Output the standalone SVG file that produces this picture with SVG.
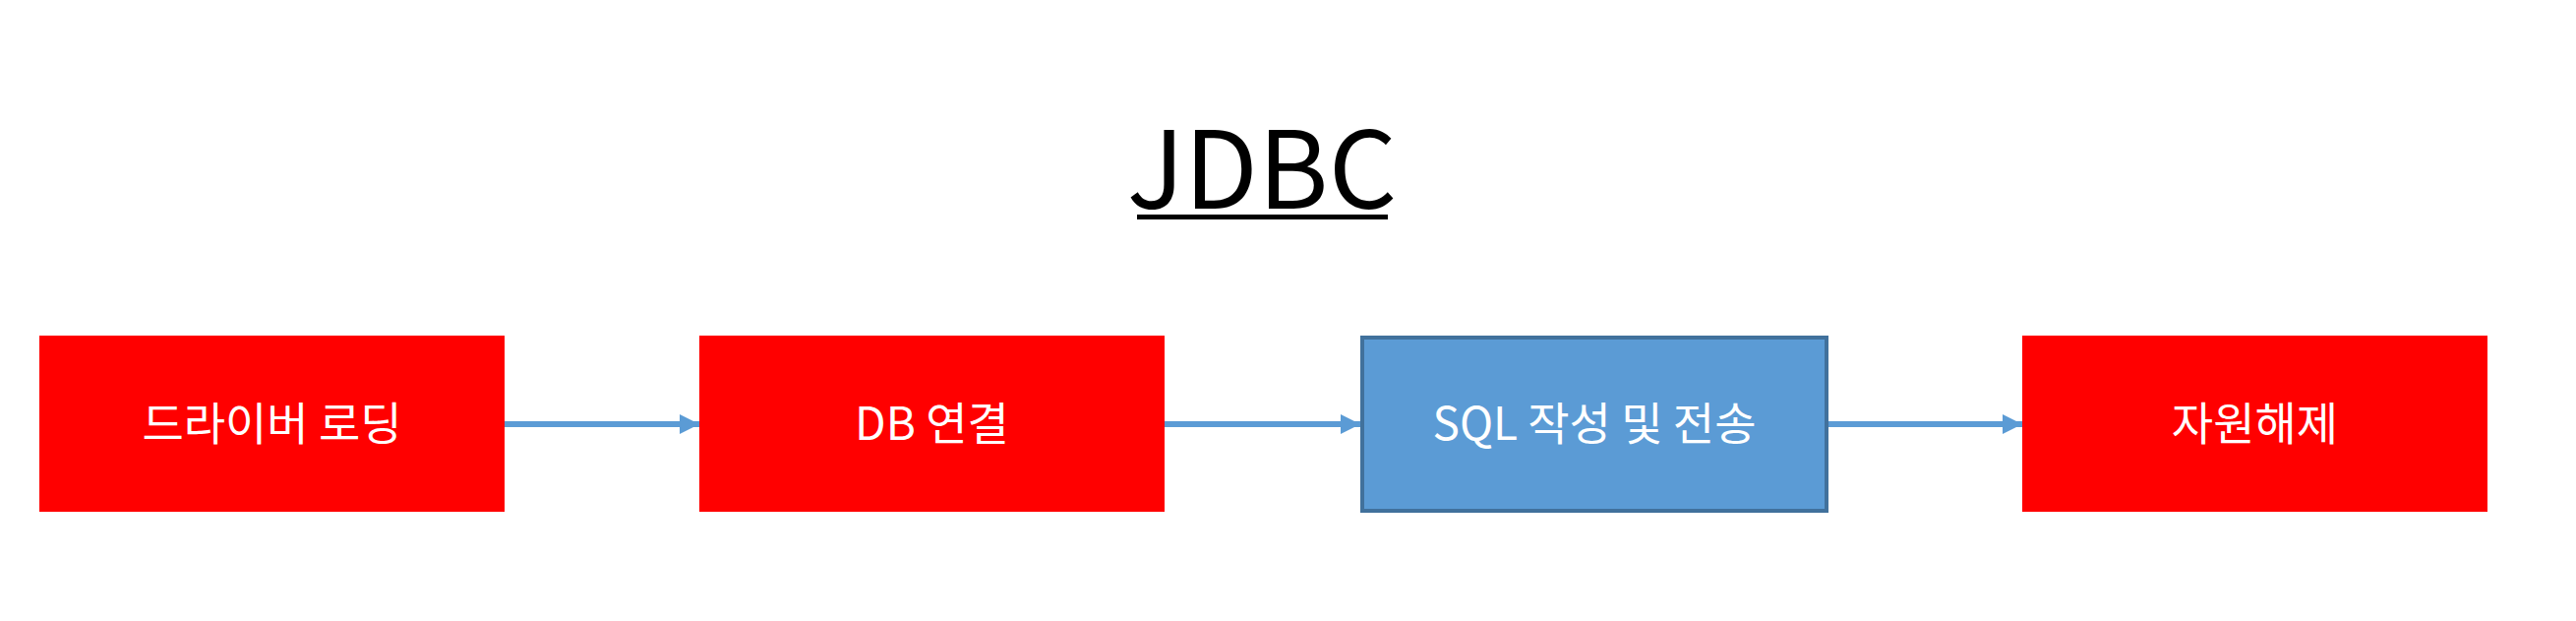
<svg xmlns="http://www.w3.org/2000/svg" width="2619" height="631" viewBox="0 0 2619 631">
<style>
.lbl{font-family:"Noto Sans CJK KR","Liberation Sans",sans-serif;font-size:46px;fill:#ffffff;text-anchor:middle}
.red{fill:#ff0000}
.blue{fill:#5b9bd5;stroke:#41719c;stroke-width:4}
.conn{stroke:#5b9bd5;stroke-width:6;fill:none;marker-end:url(#ah)}
</style>
<defs>
<marker id="ah" markerUnits="userSpaceOnUse" markerWidth="20" markerHeight="20" refX="20" refY="10" orient="auto">
<path d="M0,0 L20,10 L0,20 z" fill="#5b9bd5"/>
</marker>
</defs>
<rect width="2619" height="631" fill="#ffffff"/>
<g id="title">
<text x="1283" y="212" font-family="Noto Sans CJK KR, Liberation Sans, sans-serif" font-size="109" fill="#000000" text-anchor="middle">JDBC</text>
<rect x="1156" y="218" width="255" height="5" fill="#000000"/>
</g>
<g id="connectors">
<line class="conn" x1="513" y1="431" x2="711" y2="431"/>
<line class="conn" x1="1184" y1="431" x2="1383" y2="431"/>
<line class="conn" x1="1859" y1="431" x2="2056" y2="431"/>
</g>
<g id="node1">
<rect class="red" x="40" y="341" width="473" height="179"/>
<text class="lbl" x="276.5" y="447">드라이버 로딩</text>
</g>
<g id="node2">
<rect class="red" x="711" y="341" width="473" height="179"/>
<text class="lbl" x="947.5" y="447">DB 연결</text>
</g>
<g id="node3">
<rect class="blue" x="1385" y="343" width="472" height="176"/>
<text class="lbl" x="1621" y="447">SQL 작성 및 전송</text>
</g>
<g id="node4">
<rect class="red" x="2056" y="341" width="473" height="179"/>
<text class="lbl" x="2292.5" y="447">자원해제</text>
</g>
</svg>
